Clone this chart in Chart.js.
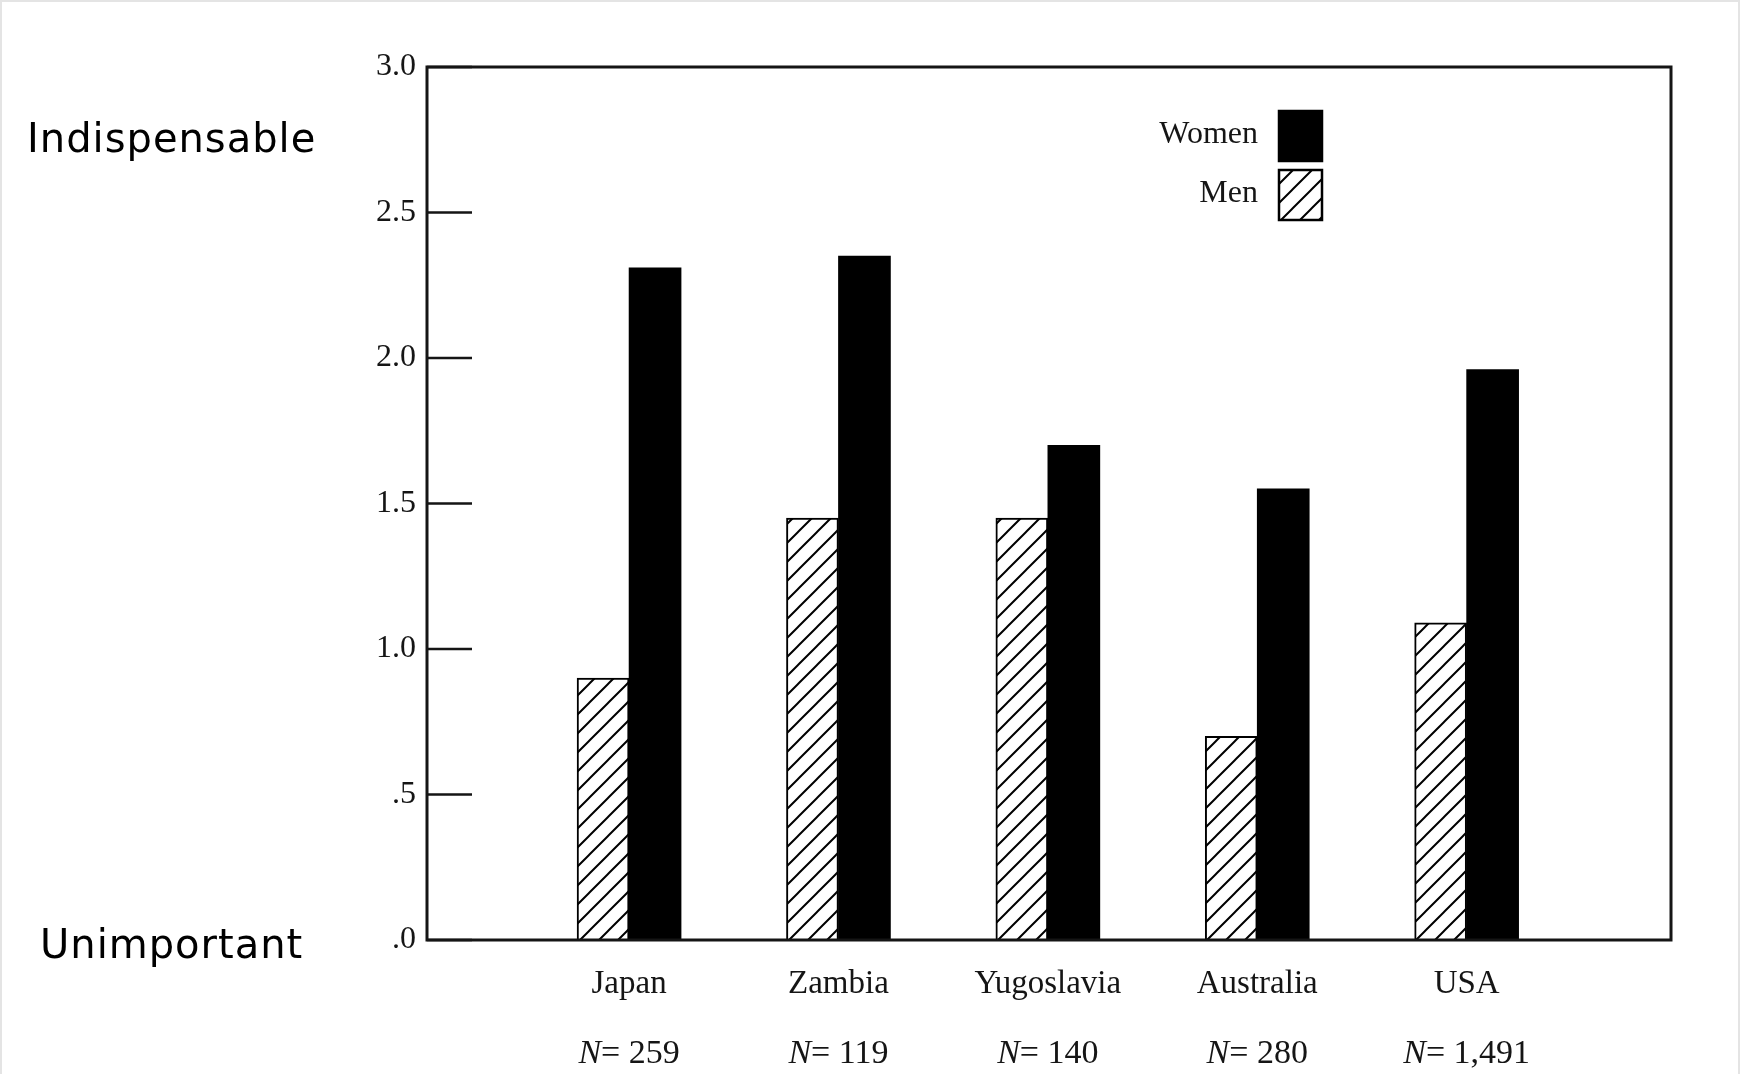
<!DOCTYPE html>
<html>
<head>
<meta charset="utf-8">
<title>Indispensable vs Unimportant</title>
<script src="https://cdn.jsdelivr.net/npm/chart.js@4.4.1/dist/chart.umd.min.js"></script>
<style>
	html, body { margin: 0; background: #fff; }
	#wrap { position: relative; width: 1741px; height: 1074px; }
	#edge { position: absolute; left: 0; top: 0; width: 1740px; height: 1074px; box-sizing: border-box;
		border-left: 2px solid #e4e4e4; border-top: 2px solid #e4e4e4; border-right: 2px solid #e4e4e4; pointer-events: none; }
</style>
</head>
<body>
<div id="wrap">
	<canvas id="chartBar" width="1741" height="1074"></canvas>
	<div id="edge"></div>
</div>
<script>
const countries = ['Japan', 'Zambia', 'Yugoslavia', 'Australia', 'USA'];
const sampleSizes = ['259', '119', '140', '280', '1,491'];
const men = [0.90, 1.45, 1.45, 0.70, 1.09];
const women = [2.31, 2.35, 1.70, 1.55, 1.96];
const yTicks = [0, 0.5, 1, 1.5, 2, 2.5, 3];
const yTickLabels = ['.0', '.5', '1.0', '1.5', '2.0', '2.5', '3.0'];
const scaleEnds = ['Indispensable', 'Unimportant'];

const ink = '#151515';
const serif = '"Liberation Serif", "Times New Roman", serif';

var ctx = document.getElementById('chartBar').getContext('2d');

// diagonal hatch used for the men bars
var hatch = (function(){
	const s = 19, c = document.createElement('canvas');
	c.width = c.height = s;
	const h = c.getContext('2d');
	h.fillStyle = '#fff';
	h.fillRect(0, 0, s, s);
	h.strokeStyle = '#000';
	h.lineWidth = 2;
	h.beginPath();
	h.moveTo(0, s); h.lineTo(s, 0);
	h.moveTo(-3, 3); h.lineTo(3, -3);
	h.moveTo(s - 3, s + 3); h.lineTo(s + 3, s - 3);
	h.stroke();
	return ctx.createPattern(c, 'repeat');
})();

const frame = {
	id: 'frame',
	afterDatasetsDraw(chart) {
		const c = chart.ctx, a = chart.chartArea, x = chart.scales.x, y = chart.scales.y;
		c.save();
		c.strokeStyle = ink;

		// inward ticks on the left axis
		c.lineWidth = 2.5;
		c.beginPath();
		yTicks.forEach(v => {
			const py = y.getPixelForValue(v);
			c.moveTo(a.left, py);
			c.lineTo(a.left + 45, py);
		});
		c.stroke();

		c.lineWidth = 3;
		c.strokeRect(a.left, a.top, a.right - a.left, a.bottom - a.top);

		// N = ... under each country
		c.fillStyle = ink;
		c.textBaseline = 'middle';
		c.textAlign = 'left';
		countries.forEach((name, i) => {
			const px = x.getPixelForValue(i), py = a.bottom + 114;
			const rest = '= ' + sampleSizes[i];
			c.font = 'italic 34px ' + serif;
			const wN = c.measureText('N').width;
			c.font = '34px ' + serif;
			const wR = c.measureText(rest).width;
			const sx = px - (wN + wR) / 2;
			c.font = 'italic 34px ' + serif;
			c.fillText('N', sx, py);
			c.font = '34px ' + serif;
			c.fillText(rest, sx + wN, py);
		});

		// legend: Women on top, Men below
		const items = chart.data.datasets.slice().reverse();
		items.forEach((ds, k) => {
			const sx = a.left + 852, sy = a.top + 44 + k * 59, w = 43, h = 50;
			c.fillStyle = ds.backgroundColor;
			c.fillRect(sx, sy, w, h);
			c.lineWidth = 2.5;
			c.strokeStyle = '#000';
			c.strokeRect(sx, sy, w, h);
			c.fillStyle = ink;
			c.font = '32px ' + serif;
			c.textAlign = 'right';
			c.fillText(ds.label, sx - 21, sy + h / 2 - 1);
		});

		// scale end words on the far left
		c.fillStyle = '#000';
		c.textAlign = 'left';
		c.font = '40px "DejaVu Sans", sans-serif';
		c.letterSpacing = '1px';
		c.fillText(scaleEnds[0], 27, y.getPixelForValue(2.75) + 2);
		c.fillText(scaleEnds[1], 40, y.getPixelForValue(0) + 8);
		c.restore();
	}
};

var chart = new Chart(ctx, {
	type: 'bar',
	data: {
		datasets: [{
			label: 'Men',
			data: men.map((v, i) => ({x: i, y: v})),
			backgroundColor: hatch,
			borderColor: '#000',
			borderWidth: 2,
			barThickness: 52
		}, {
			label: 'Women',
			data: women.map((v, i) => ({x: i, y: v})),
			backgroundColor: '#000',
			borderWidth: 0,
			barThickness: 52
		}]
	},
	options: {
		responsive: false,
		animation: false,
		layout: { padding: { top: 67, right: 70, left: 0, bottom: 0 } },
		plugins: { legend: { display: false }, tooltip: { enabled: false } },
		scales: {
			x: {
				type: 'linear',
				offset: false,
				min: -0.965,
				max: 4.976,
				grid: { display: false },
				border: { display: false },
				afterBuildTicks: s => { s.ticks = countries.map((n, i) => ({value: i})); },
				afterFit: s => { s.height = 134; },
				ticks: {
					callback: v => countries[v],
					font: { family: serif, size: 33 },
					color: ink,
					padding: 17,
					maxRotation: 0,
					autoSkip: false
				}
			},
			y: {
				min: 0,
				max: 3,
				grid: { display: false },
				border: { display: false },
				afterBuildTicks: s => { s.ticks = yTicks.map(v => ({value: v})); },
				afterFit: s => { s.width = 427; },
				ticks: {
					callback: v => yTickLabels[yTicks.indexOf(v)],
					font: { family: serif, size: 32 },
					color: ink,
					padding: 3
				}
			}
		}
	},
	plugins: [frame]
});
</script>
</body>
</html>
